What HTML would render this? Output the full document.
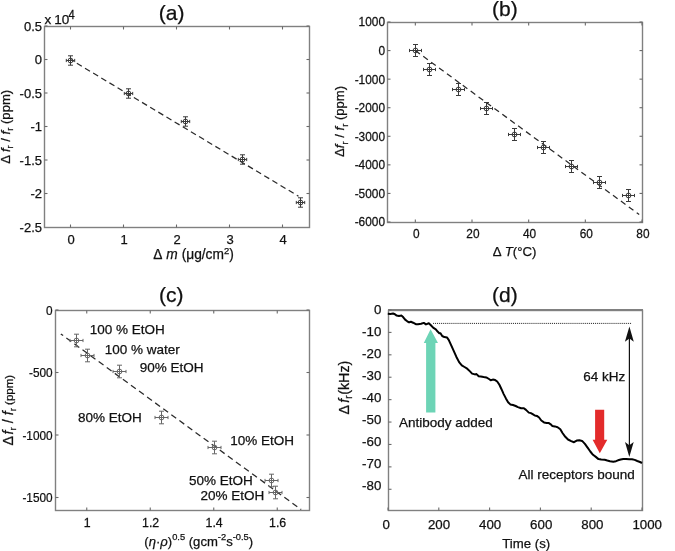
<!DOCTYPE html>
<html><head><meta charset="utf-8"><style>
html,body{margin:0;padding:0;background:#fff;}
svg{display:block;will-change:transform;}
text{font-family:"Liberation Sans", sans-serif;fill:#111;stroke:#111;stroke-width:0.25px;}
</style></head><body>
<svg width="675" height="551" viewBox="0 0 675 551">
<rect width="675" height="551" fill="#fff"/>
<rect x="44.5" y="26.5" width="265.0" height="201.0" fill="none" stroke="#808080" stroke-width="1.4"/>
<line x1="70.5" y1="227.5" x2="70.5" y2="224.5" stroke="#6a6a6a" stroke-width="1.1"/>
<line x1="70.5" y1="26.5" x2="70.5" y2="29.5" stroke="#6a6a6a" stroke-width="1.1"/>
<line x1="123.5" y1="227.5" x2="123.5" y2="224.5" stroke="#6a6a6a" stroke-width="1.1"/>
<line x1="123.5" y1="26.5" x2="123.5" y2="29.5" stroke="#6a6a6a" stroke-width="1.1"/>
<line x1="176.5" y1="227.5" x2="176.5" y2="224.5" stroke="#6a6a6a" stroke-width="1.1"/>
<line x1="176.5" y1="26.5" x2="176.5" y2="29.5" stroke="#6a6a6a" stroke-width="1.1"/>
<line x1="229.5" y1="227.5" x2="229.5" y2="224.5" stroke="#6a6a6a" stroke-width="1.1"/>
<line x1="229.5" y1="26.5" x2="229.5" y2="29.5" stroke="#6a6a6a" stroke-width="1.1"/>
<line x1="282.5" y1="227.5" x2="282.5" y2="224.5" stroke="#6a6a6a" stroke-width="1.1"/>
<line x1="282.5" y1="26.5" x2="282.5" y2="29.5" stroke="#6a6a6a" stroke-width="1.1"/>
<line x1="44.5" y1="26.0" x2="47.5" y2="26.0" stroke="#6a6a6a" stroke-width="1.1"/>
<line x1="309.5" y1="26.0" x2="306.5" y2="26.0" stroke="#6a6a6a" stroke-width="1.1"/>
<line x1="44.5" y1="59.5" x2="47.5" y2="59.5" stroke="#6a6a6a" stroke-width="1.1"/>
<line x1="309.5" y1="59.5" x2="306.5" y2="59.5" stroke="#6a6a6a" stroke-width="1.1"/>
<line x1="44.5" y1="93.0" x2="47.5" y2="93.0" stroke="#6a6a6a" stroke-width="1.1"/>
<line x1="309.5" y1="93.0" x2="306.5" y2="93.0" stroke="#6a6a6a" stroke-width="1.1"/>
<line x1="44.5" y1="126.5" x2="47.5" y2="126.5" stroke="#6a6a6a" stroke-width="1.1"/>
<line x1="309.5" y1="126.5" x2="306.5" y2="126.5" stroke="#6a6a6a" stroke-width="1.1"/>
<line x1="44.5" y1="160.0" x2="47.5" y2="160.0" stroke="#6a6a6a" stroke-width="1.1"/>
<line x1="309.5" y1="160.0" x2="306.5" y2="160.0" stroke="#6a6a6a" stroke-width="1.1"/>
<line x1="44.5" y1="193.5" x2="47.5" y2="193.5" stroke="#6a6a6a" stroke-width="1.1"/>
<line x1="309.5" y1="193.5" x2="306.5" y2="193.5" stroke="#6a6a6a" stroke-width="1.1"/>
<text x="71.0" y="243.5" font-size="13" text-anchor="middle" >0</text>
<text x="124.0" y="243.5" font-size="13" text-anchor="middle" >1</text>
<text x="177.0" y="243.5" font-size="13" text-anchor="middle" >2</text>
<text x="230.0" y="243.5" font-size="13" text-anchor="middle" >3</text>
<text x="283.0" y="243.5" font-size="13" text-anchor="middle" >4</text>
<text x="42.0" y="30.7" font-size="13" text-anchor="end" >0.5</text>
<text x="42.0" y="64.2" font-size="13" text-anchor="end" >0</text>
<text x="42.0" y="97.7" font-size="13" text-anchor="end" >-0.5</text>
<text x="42.0" y="131.2" font-size="13" text-anchor="end" >-1</text>
<text x="42.0" y="164.7" font-size="13" text-anchor="end" >-1.5</text>
<text x="42.0" y="198.2" font-size="13" text-anchor="end" >-2</text>
<text x="42.0" y="231.7" font-size="13" text-anchor="end" >-2.5</text>
<text x="44.4" y="24.2" font-size="13.5" text-anchor="start" >x</text>
<text x="54.2" y="24.3" font-size="13.5" text-anchor="start" >10</text>
<text transform="translate(68.4,18.6) scale(0.93,1.12)" font-size="12" text-anchor="start" >4</text>
<text x="171.7" y="20.2" font-size="21" text-anchor="middle" >(a)</text>
<text x="193.5" y="259.3" font-size="13.75" text-anchor="middle" >Δ<tspan dx="4" font-style="italic">m</tspan> (μg/cm<tspan font-size="9.5" dy="-5.5">2</tspan><tspan dy="5.5">)</tspan></text>
<text x="0" y="0" font-size="13.1" text-anchor="middle" transform="translate(9.5,126.8) rotate(-90)">Δ<tspan dx="3" font-style="italic">f</tspan><tspan font-size="9.3" dy="3.5">r</tspan><tspan dy="-3.5"> / </tspan><tspan font-style="italic">f</tspan><tspan font-size="9.3" dy="3.5">r</tspan><tspan dy="-3.5"> (ppm)</tspan></text>
<line x1="70.5" y1="59.5" x2="298.5" y2="196.2" stroke="#2a2a2a" stroke-width="1.25" stroke-dasharray="5.8 3.7" stroke-dashoffset="2.1"/>
<g stroke="#3a3a3a" stroke-width="1" fill="none"><path d="M70.5 55.8V65.2M68.0 55.8H73.0M68.0 65.2H73.0M66.3 60.5H74.7M66.3 58.9V62.1M74.7 58.9V62.1"/><circle cx="70.5" cy="60.5" r="2.4"/></g>
<g stroke="#3a3a3a" stroke-width="1" fill="none"><path d="M128.5 88.8V98.2M126.0 88.8H131.0M126.0 98.2H131.0M124.3 93.5H132.7M124.3 91.9V95.1M132.7 91.9V95.1"/><circle cx="128.5" cy="93.5" r="2.4"/></g>
<g stroke="#3a3a3a" stroke-width="1" fill="none"><path d="M185.5 116.8V126.2M183.0 116.8H188.0M183.0 126.2H188.0M181.3 121.5H189.7M181.3 119.9V123.1M189.7 119.9V123.1"/><circle cx="185.5" cy="121.5" r="2.4"/></g>
<g stroke="#3a3a3a" stroke-width="1" fill="none"><path d="M242.5 154.8V164.2M240.0 154.8H245.0M240.0 164.2H245.0M238.3 159.5H246.7M238.3 157.9V161.1M246.7 157.9V161.1"/><circle cx="242.5" cy="159.5" r="2.4"/></g>
<g stroke="#3a3a3a" stroke-width="1" fill="none"><path d="M300.5 197.8V207.2M298.0 197.8H303.0M298.0 207.2H303.0M296.3 202.5H304.7M296.3 200.9V204.1M304.7 200.9V204.1"/><circle cx="300.5" cy="202.5" r="2.4"/></g>
<rect x="387.5" y="22.5" width="255.0" height="200.0" fill="none" stroke="#808080" stroke-width="1.4"/>
<line x1="415.3333333333333" y1="222.5" x2="415.3333333333333" y2="219.5" stroke="#6a6a6a" stroke-width="1.1"/>
<line x1="415.3333333333333" y1="22.5" x2="415.3333333333333" y2="25.5" stroke="#6a6a6a" stroke-width="1.1"/>
<line x1="472.0" y1="222.5" x2="472.0" y2="219.5" stroke="#6a6a6a" stroke-width="1.1"/>
<line x1="472.0" y1="22.5" x2="472.0" y2="25.5" stroke="#6a6a6a" stroke-width="1.1"/>
<line x1="528.6666666666666" y1="222.5" x2="528.6666666666666" y2="219.5" stroke="#6a6a6a" stroke-width="1.1"/>
<line x1="528.6666666666666" y1="22.5" x2="528.6666666666666" y2="25.5" stroke="#6a6a6a" stroke-width="1.1"/>
<line x1="585.3333333333334" y1="222.5" x2="585.3333333333334" y2="219.5" stroke="#6a6a6a" stroke-width="1.1"/>
<line x1="585.3333333333334" y1="22.5" x2="585.3333333333334" y2="25.5" stroke="#6a6a6a" stroke-width="1.1"/>
<line x1="642.0" y1="222.5" x2="642.0" y2="219.5" stroke="#6a6a6a" stroke-width="1.1"/>
<line x1="642.0" y1="22.5" x2="642.0" y2="25.5" stroke="#6a6a6a" stroke-width="1.1"/>
<line x1="387.5" y1="22.0" x2="390.5" y2="22.0" stroke="#6a6a6a" stroke-width="1.1"/>
<line x1="642.5" y1="22.0" x2="639.5" y2="22.0" stroke="#6a6a6a" stroke-width="1.1"/>
<line x1="387.5" y1="50.57142857142857" x2="390.5" y2="50.57142857142857" stroke="#6a6a6a" stroke-width="1.1"/>
<line x1="642.5" y1="50.57142857142857" x2="639.5" y2="50.57142857142857" stroke="#6a6a6a" stroke-width="1.1"/>
<line x1="387.5" y1="79.14285714285714" x2="390.5" y2="79.14285714285714" stroke="#6a6a6a" stroke-width="1.1"/>
<line x1="642.5" y1="79.14285714285714" x2="639.5" y2="79.14285714285714" stroke="#6a6a6a" stroke-width="1.1"/>
<line x1="387.5" y1="107.71428571428571" x2="390.5" y2="107.71428571428571" stroke="#6a6a6a" stroke-width="1.1"/>
<line x1="642.5" y1="107.71428571428571" x2="639.5" y2="107.71428571428571" stroke="#6a6a6a" stroke-width="1.1"/>
<line x1="387.5" y1="136.28571428571428" x2="390.5" y2="136.28571428571428" stroke="#6a6a6a" stroke-width="1.1"/>
<line x1="642.5" y1="136.28571428571428" x2="639.5" y2="136.28571428571428" stroke="#6a6a6a" stroke-width="1.1"/>
<line x1="387.5" y1="164.85714285714286" x2="390.5" y2="164.85714285714286" stroke="#6a6a6a" stroke-width="1.1"/>
<line x1="642.5" y1="164.85714285714286" x2="639.5" y2="164.85714285714286" stroke="#6a6a6a" stroke-width="1.1"/>
<line x1="387.5" y1="193.42857142857142" x2="390.5" y2="193.42857142857142" stroke="#6a6a6a" stroke-width="1.1"/>
<line x1="642.5" y1="193.42857142857142" x2="639.5" y2="193.42857142857142" stroke="#6a6a6a" stroke-width="1.1"/>
<line x1="387.5" y1="222.0" x2="390.5" y2="222.0" stroke="#6a6a6a" stroke-width="1.1"/>
<line x1="642.5" y1="222.0" x2="639.5" y2="222.0" stroke="#6a6a6a" stroke-width="1.1"/>
<text transform="translate(416.2333333333333,238.1) scale(0.95,1)" font-size="12.5" text-anchor="middle" >0</text>
<text transform="translate(472.9,238.1) scale(0.95,1)" font-size="12.5" text-anchor="middle" >20</text>
<text transform="translate(529.5666666666666,238.1) scale(0.95,1)" font-size="12.5" text-anchor="middle" >40</text>
<text transform="translate(586.2333333333333,238.1) scale(0.95,1)" font-size="12.5" text-anchor="middle" >60</text>
<text transform="translate(642.9,238.1) scale(0.95,1)" font-size="12.5" text-anchor="middle" >80</text>
<text transform="translate(385.0,26.4) scale(0.95,1)" font-size="12.5" text-anchor="end" >1000</text>
<text transform="translate(385.0,54.97142857142857) scale(0.95,1)" font-size="12.5" text-anchor="end" >0</text>
<text transform="translate(385.0,83.54285714285714) scale(0.95,1)" font-size="12.5" text-anchor="end" >-1000</text>
<text transform="translate(385.0,112.11428571428571) scale(0.95,1)" font-size="12.5" text-anchor="end" >-2000</text>
<text transform="translate(385.0,140.68571428571428) scale(0.95,1)" font-size="12.5" text-anchor="end" >-3000</text>
<text transform="translate(385.0,169.25714285714287) scale(0.95,1)" font-size="12.5" text-anchor="end" >-4000</text>
<text transform="translate(385.0,197.82857142857142) scale(0.95,1)" font-size="12.5" text-anchor="end" >-5000</text>
<text transform="translate(385.0,226.4) scale(0.95,1)" font-size="12.5" text-anchor="end" >-6000</text>
<text x="504.9" y="16.0" font-size="21" text-anchor="middle" >(b)</text>
<text x="514.6" y="256.1" font-size="13.2" text-anchor="middle" >Δ<tspan dx="3" font-style="italic">T</tspan>(°C)</text>
<text x="0" y="0" font-size="13.1" text-anchor="middle" transform="translate(344,121.4) rotate(-90)">Δ<tspan dx="0" font-style="italic">f</tspan><tspan font-size="9.3" dy="3.5">r</tspan><tspan dy="-3.5"> / </tspan><tspan font-style="italic">f</tspan><tspan font-size="9.3" dy="3.5">r</tspan><tspan dy="-3.5"> (ppm)</tspan></text>
<line x1="415.3333333333333" y1="50.57142857142857" x2="639.2" y2="214.5" stroke="#2a2a2a" stroke-width="1.25" stroke-dasharray="5.7 4.1" stroke-dashoffset="0"/>
<g stroke="#3a3a3a" stroke-width="1" fill="none"><path d="M415.5 44.5V56.5M413.0 44.5H418.0M413.0 56.5H418.0M409.5 50.5H421.5M409.5 48.9V52.1M421.5 48.9V52.1"/><circle cx="415.5" cy="50.5" r="2.4"/></g>
<g stroke="#3a3a3a" stroke-width="1" fill="none"><path d="M429.5 63.5V75.5M427.0 63.5H432.0M427.0 75.5H432.0M423.5 69.5H435.5M423.5 67.9V71.1M435.5 67.9V71.1"/><circle cx="429.5" cy="69.5" r="2.4"/></g>
<g stroke="#3a3a3a" stroke-width="1" fill="none"><path d="M458.5 83.5V95.5M456.0 83.5H461.0M456.0 95.5H461.0M452.5 89.5H464.5M452.5 87.9V91.1M464.5 87.9V91.1"/><circle cx="458.5" cy="89.5" r="2.4"/></g>
<g stroke="#3a3a3a" stroke-width="1" fill="none"><path d="M486.5 102.5V114.5M484.0 102.5H489.0M484.0 114.5H489.0M480.5 108.5H492.5M480.5 106.9V110.1M492.5 106.9V110.1"/><circle cx="486.5" cy="108.5" r="2.4"/></g>
<g stroke="#3a3a3a" stroke-width="1" fill="none"><path d="M514.5 128.5V140.5M512.0 128.5H517.0M512.0 140.5H517.0M508.5 134.5H520.5M508.5 132.9V136.1M520.5 132.9V136.1"/><circle cx="514.5" cy="134.5" r="2.4"/></g>
<g stroke="#3a3a3a" stroke-width="1" fill="none"><path d="M543.5 141.5V153.5M541.0 141.5H546.0M541.0 153.5H546.0M537.5 147.5H549.5M537.5 145.9V149.1M549.5 145.9V149.1"/><circle cx="543.5" cy="147.5" r="2.4"/></g>
<g stroke="#3a3a3a" stroke-width="1" fill="none"><path d="M571.5 160.5V172.5M569.0 160.5H574.0M569.0 172.5H574.0M565.5 166.5H577.5M565.5 164.9V168.1M577.5 164.9V168.1"/><circle cx="571.5" cy="166.5" r="2.4"/></g>
<g stroke="#3a3a3a" stroke-width="1" fill="none"><path d="M599.5 176.5V188.5M597.0 176.5H602.0M597.0 188.5H602.0M593.5 182.5H605.5M593.5 180.9V184.1M605.5 180.9V184.1"/><circle cx="599.5" cy="182.5" r="2.4"/></g>
<g stroke="#3a3a3a" stroke-width="1" fill="none"><path d="M628.5 189.5V201.5M626.0 189.5H631.0M626.0 201.5H631.0M622.5 195.5H634.5M622.5 193.9V197.1M634.5 193.9V197.1"/><circle cx="628.5" cy="195.5" r="2.4"/></g>
<rect x="55.5" y="310.5" width="254.0" height="200.0" fill="none" stroke="#808080" stroke-width="1.4"/>
<line x1="86.75" y1="510.5" x2="86.75" y2="507.5" stroke="#6a6a6a" stroke-width="1.1"/>
<line x1="86.75" y1="310.5" x2="86.75" y2="313.5" stroke="#6a6a6a" stroke-width="1.1"/>
<line x1="150.25" y1="510.5" x2="150.25" y2="507.5" stroke="#6a6a6a" stroke-width="1.1"/>
<line x1="150.25" y1="310.5" x2="150.25" y2="313.5" stroke="#6a6a6a" stroke-width="1.1"/>
<line x1="213.74999999999997" y1="510.5" x2="213.74999999999997" y2="507.5" stroke="#6a6a6a" stroke-width="1.1"/>
<line x1="213.74999999999997" y1="310.5" x2="213.74999999999997" y2="313.5" stroke="#6a6a6a" stroke-width="1.1"/>
<line x1="277.25" y1="510.5" x2="277.25" y2="507.5" stroke="#6a6a6a" stroke-width="1.1"/>
<line x1="277.25" y1="310.5" x2="277.25" y2="313.5" stroke="#6a6a6a" stroke-width="1.1"/>
<line x1="55.5" y1="310.0" x2="58.5" y2="310.0" stroke="#6a6a6a" stroke-width="1.1"/>
<line x1="309.5" y1="310.0" x2="306.5" y2="310.0" stroke="#6a6a6a" stroke-width="1.1"/>
<line x1="55.5" y1="372.5" x2="58.5" y2="372.5" stroke="#6a6a6a" stroke-width="1.1"/>
<line x1="309.5" y1="372.5" x2="306.5" y2="372.5" stroke="#6a6a6a" stroke-width="1.1"/>
<line x1="55.5" y1="435.0" x2="58.5" y2="435.0" stroke="#6a6a6a" stroke-width="1.1"/>
<line x1="309.5" y1="435.0" x2="306.5" y2="435.0" stroke="#6a6a6a" stroke-width="1.1"/>
<line x1="55.5" y1="497.5" x2="58.5" y2="497.5" stroke="#6a6a6a" stroke-width="1.1"/>
<line x1="309.5" y1="497.5" x2="306.5" y2="497.5" stroke="#6a6a6a" stroke-width="1.1"/>
<text transform="translate(87.15,526.5) scale(0.95,1)" font-size="13" text-anchor="middle" >1</text>
<text transform="translate(150.65,526.5) scale(0.95,1)" font-size="13" text-anchor="middle" >1.2</text>
<text transform="translate(214.14999999999998,526.5) scale(0.95,1)" font-size="13" text-anchor="middle" >1.4</text>
<text transform="translate(277.65,526.5) scale(0.95,1)" font-size="13" text-anchor="middle" >1.6</text>
<text transform="translate(52.6,314.5) scale(0.91,1)" font-size="13" text-anchor="end" >0</text>
<text transform="translate(52.6,377.0) scale(0.91,1)" font-size="13" text-anchor="end" >-500</text>
<text transform="translate(52.6,439.5) scale(0.91,1)" font-size="13" text-anchor="end" >-1000</text>
<text transform="translate(52.6,502.0) scale(0.91,1)" font-size="13" text-anchor="end" >-1500</text>
<text x="171.2" y="301.5" font-size="21" text-anchor="middle" >(c)</text>
<text x="198.7" y="545.6" font-size="13.1" text-anchor="middle" >(<tspan font-style="italic">η</tspan>·<tspan font-style="italic">ρ</tspan>)<tspan font-size="9.3" dy="-6">0.5</tspan><tspan dy="6"> (gcm</tspan><tspan font-size="9.3" dy="-6">-2</tspan><tspan dy="6">s</tspan><tspan font-size="9.3" dy="-6">-0.5</tspan><tspan dy="6">)</tspan></text>
<text x="0" y="0" font-size="14.3" text-anchor="middle" transform="translate(12.6,410.2) rotate(-90)">Δ<tspan dx="1.5" font-style="italic">f</tspan><tspan font-size="9.8" dy="3.5">r</tspan><tspan dy="-3.5"> / </tspan><tspan font-style="italic">f</tspan><tspan font-size="9.8" dy="3.5">r</tspan><tspan dy="-3.5" font-size="11.5"> (ppm)</tspan></text>
<line x1="60.8" y1="333.9" x2="301.2" y2="509.6" stroke="#2a2a2a" stroke-width="1.25" stroke-dasharray="6 4" stroke-dashoffset="3.1"/>
<g stroke="#666" stroke-width="1" fill="none"><path d="M76.5 334.2V346.8M74.0 334.2H79.0M74.0 346.8H79.0M70.0 340.5H83.0M70.0 338.9V342.1M83.0 338.9V342.1"/><circle cx="76.5" cy="340.5" r="2.4"/></g>
<g stroke="#666" stroke-width="1" fill="none"><path d="M87.5 349.2V361.8M85.0 349.2H90.0M85.0 361.8H90.0M81.0 355.5H94.0M81.0 353.9V357.1M94.0 353.9V357.1"/><circle cx="87.5" cy="355.5" r="2.4"/></g>
<g stroke="#666" stroke-width="1" fill="none"><path d="M119.5 365.2V377.8M117.0 365.2H122.0M117.0 377.8H122.0M113.0 371.5H126.0M113.0 369.9V373.1M126.0 369.9V373.1"/><circle cx="119.5" cy="371.5" r="2.4"/></g>
<g stroke="#666" stroke-width="1" fill="none"><path d="M161.5 411.2V423.8M159.0 411.2H164.0M159.0 423.8H164.0M155.0 417.5H168.0M155.0 415.9V419.1M168.0 415.9V419.1"/><circle cx="161.5" cy="417.5" r="2.4"/></g>
<g stroke="#666" stroke-width="1" fill="none"><path d="M214.5 441.2V453.8M212.0 441.2H217.0M212.0 453.8H217.0M208.0 447.5H221.0M208.0 445.9V449.1M221.0 445.9V449.1"/><circle cx="214.5" cy="447.5" r="2.4"/></g>
<g stroke="#666" stroke-width="1" fill="none"><path d="M271.5 474.2V486.8M269.0 474.2H274.0M269.0 486.8H274.0M265.0 480.5H278.0M265.0 478.9V482.1M278.0 478.9V482.1"/><circle cx="271.5" cy="480.5" r="2.4"/></g>
<g stroke="#666" stroke-width="1" fill="none"><path d="M275.5 486.2V498.8M273.0 486.2H278.0M273.0 498.8H278.0M269.0 492.5H282.0M269.0 490.9V494.1M282.0 490.9V494.1"/><circle cx="275.5" cy="492.5" r="2.4"/></g>
<text x="89.7" y="334" font-size="13.5" text-anchor="start" >100 % EtOH</text>
<text x="104.7" y="353.7" font-size="13.5" text-anchor="start" >100 % water</text>
<text x="139.8" y="372.4" font-size="13.5" text-anchor="start" >90% EtOH</text>
<text x="78" y="422" font-size="13.5" text-anchor="start" >80% EtOH</text>
<text x="230.2" y="444.6" font-size="13.5" text-anchor="start" >10% EtOH</text>
<text x="189.1" y="484.9" font-size="13.5" text-anchor="start" >50% EtOH</text>
<text x="200.5" y="500.3" font-size="13.5" text-anchor="start" >20% EtOH</text>
<rect x="388.5" y="310.5" width="254.0" height="200.0" fill="none" stroke="#808080" stroke-width="1.4"/>
<line x1="388" y1="310" x2="643" y2="310" stroke="#808080" stroke-width="2.1"/>
<line x1="388.0" y1="510.5" x2="388.0" y2="507.5" stroke="#6a6a6a" stroke-width="1.1"/>
<line x1="438.8" y1="510.5" x2="438.8" y2="507.5" stroke="#6a6a6a" stroke-width="1.1"/>
<line x1="489.6" y1="510.5" x2="489.6" y2="507.5" stroke="#6a6a6a" stroke-width="1.1"/>
<line x1="540.4" y1="510.5" x2="540.4" y2="507.5" stroke="#6a6a6a" stroke-width="1.1"/>
<line x1="591.2" y1="510.5" x2="591.2" y2="507.5" stroke="#6a6a6a" stroke-width="1.1"/>
<line x1="642.0" y1="510.5" x2="642.0" y2="507.5" stroke="#6a6a6a" stroke-width="1.1"/>
<line x1="388.5" y1="310.0" x2="391.5" y2="310.0" stroke="#6a6a6a" stroke-width="1.1"/>
<line x1="388.5" y1="332.41" x2="391.5" y2="332.41" stroke="#6a6a6a" stroke-width="1.1"/>
<line x1="388.5" y1="354.82" x2="391.5" y2="354.82" stroke="#6a6a6a" stroke-width="1.1"/>
<line x1="388.5" y1="377.23" x2="391.5" y2="377.23" stroke="#6a6a6a" stroke-width="1.1"/>
<line x1="388.5" y1="399.64" x2="391.5" y2="399.64" stroke="#6a6a6a" stroke-width="1.1"/>
<line x1="388.5" y1="422.05" x2="391.5" y2="422.05" stroke="#6a6a6a" stroke-width="1.1"/>
<line x1="388.5" y1="444.46000000000004" x2="391.5" y2="444.46000000000004" stroke="#6a6a6a" stroke-width="1.1"/>
<line x1="388.5" y1="466.87" x2="391.5" y2="466.87" stroke="#6a6a6a" stroke-width="1.1"/>
<line x1="388.5" y1="489.28" x2="391.5" y2="489.28" stroke="#6a6a6a" stroke-width="1.1"/>
<text x="386.3" y="528.7" font-size="13.3" text-anchor="middle" >0</text>
<text x="439" y="528.7" font-size="13.3" text-anchor="middle" >200</text>
<text x="490.1" y="528.7" font-size="13.3" text-anchor="middle" >400</text>
<text x="541.2" y="528.7" font-size="13.3" text-anchor="middle" >600</text>
<text x="592.4" y="528.7" font-size="13.3" text-anchor="middle" >800</text>
<text x="647.2" y="528.7" font-size="13.3" text-anchor="middle" >1000</text>
<text x="381.3" y="314.0" font-size="13.3" text-anchor="end" >0</text>
<text x="381.3" y="335.95" font-size="13.3" text-anchor="end" >-10</text>
<text x="381.3" y="357.9" font-size="13.3" text-anchor="end" >-20</text>
<text x="381.3" y="379.85" font-size="13.3" text-anchor="end" >-30</text>
<text x="381.3" y="401.8" font-size="13.3" text-anchor="end" >-40</text>
<text x="381.3" y="423.75" font-size="13.3" text-anchor="end" >-50</text>
<text x="381.3" y="445.7" font-size="13.3" text-anchor="end" >-60</text>
<text x="381.3" y="467.65" font-size="13.3" text-anchor="end" >-70</text>
<text x="381.3" y="489.6" font-size="13.3" text-anchor="end" >-80</text>
<text x="504.9" y="301.5" font-size="21" text-anchor="middle" >(d)</text>
<text x="526.2" y="547.7" font-size="13.2" text-anchor="middle" >Time (s)</text>
<text x="0" y="0" font-size="14.3" text-anchor="middle" transform="translate(348.8,387.6) rotate(-90)">Δ<tspan dx="2.2" font-style="italic">f</tspan><tspan font-size="10" dy="3.5">r</tspan><tspan dy="-3.5" dx="0.6">(kHz)</tspan></text>
<polyline fill="none" stroke="#000" stroke-width="2" stroke-linejoin="round" points="387.8,313.8 390.4,314 393.1,313.5 394.9,314.2 396.7,315.6 398.9,316 401.6,315.6 403.3,317.3 405.1,319.6 407.3,321.3 409.1,322.4 410.9,321.8 413.1,322.7 415.8,324.2 418,324.2 421.1,323.8 423.8,322.9 426,324.4 428.8,323.3 430.9,325.3 433.1,327.6 435.8,329.3 437.6,331.6 439.3,333.2 440.5,333.3 442.2,336 444.4,337.1 447.1,337.6 448.7,339.8 450.9,344.7 453.6,350.7 456.3,356.7 459.1,362.1 461.8,365.4 464.5,367 467.2,368.7 470,371.4 472.1,373.6 474.9,374.4 476.5,374.1 478.7,376.3 480.8,376.6 483.6,377.1 486.3,377.4 489,379 490.7,380.3 492.8,379.6 495.2,380.1 497.2,381.5 499.4,384.8 501.5,389.2 503.7,394.1 505.9,398.4 508.1,402.2 510.3,404.4 513,405 515.7,406 517.9,407.1 521.1,408.2 523.9,408.2 526,409.9 528.8,412.6 530.9,413.1 533.1,414.4 534.8,415.5 536.9,415.9 539.1,417.5 541.3,420.5 544,422.4 546.7,422.9 548.9,423.1 551.1,424.6 552.2,425.9 554.9,426.4 557.6,427.2 560.3,429.2 562.5,433 565.3,436.8 568,439.5 571.2,441.1 574,442.2 576.7,440.6 579.4,440.3 582.1,440.9 584.9,443.9 587.6,447.7 590.3,451.5 593,454.8 595.8,456.9 598.5,459.1 601.2,459.6 604.7,459.7 607.3,460.5 610,461.2 613.3,461.7 616,461.2 618,460.3 620.7,459.5 623.3,459 626,459 629.3,459.3 632,459.2 634.7,459.9 637.3,461 640,462 642,463"/>
<line x1="433.1" y1="323.4" x2="632" y2="323.4" stroke="#222" stroke-width="1" stroke-dasharray="1 0.95"/>
<path d="M426.1 412.4V343.1H423.8L430.6 329.3L438 343.1H435.4V412.4Z" fill="#6dd4b6"/>
<path d="M595.1 409.8V439.7H592.6L599.8 453.3L607.3 439.7H604.2V409.8Z" fill="#e32b2b"/>
<line x1="629.4" y1="336" x2="629.4" y2="447" stroke="#111" stroke-width="1.2"/>
<path d="M629.4 326.4L633.8 341.7L629.4 338.5L624.9 341.7Z" fill="#111"/>
<path d="M629.3 457L633.7 442L629.3 445.3L625 442Z" fill="#111"/>
<text x="583.3" y="380.6" font-size="13.5" text-anchor="start" >64 kHz</text>
<text x="399" y="427" font-size="13.5" text-anchor="start" >Antibody added</text>
<text x="518.5" y="478.5" font-size="13.5" text-anchor="start" >All receptors bound</text>
</svg></body></html>
